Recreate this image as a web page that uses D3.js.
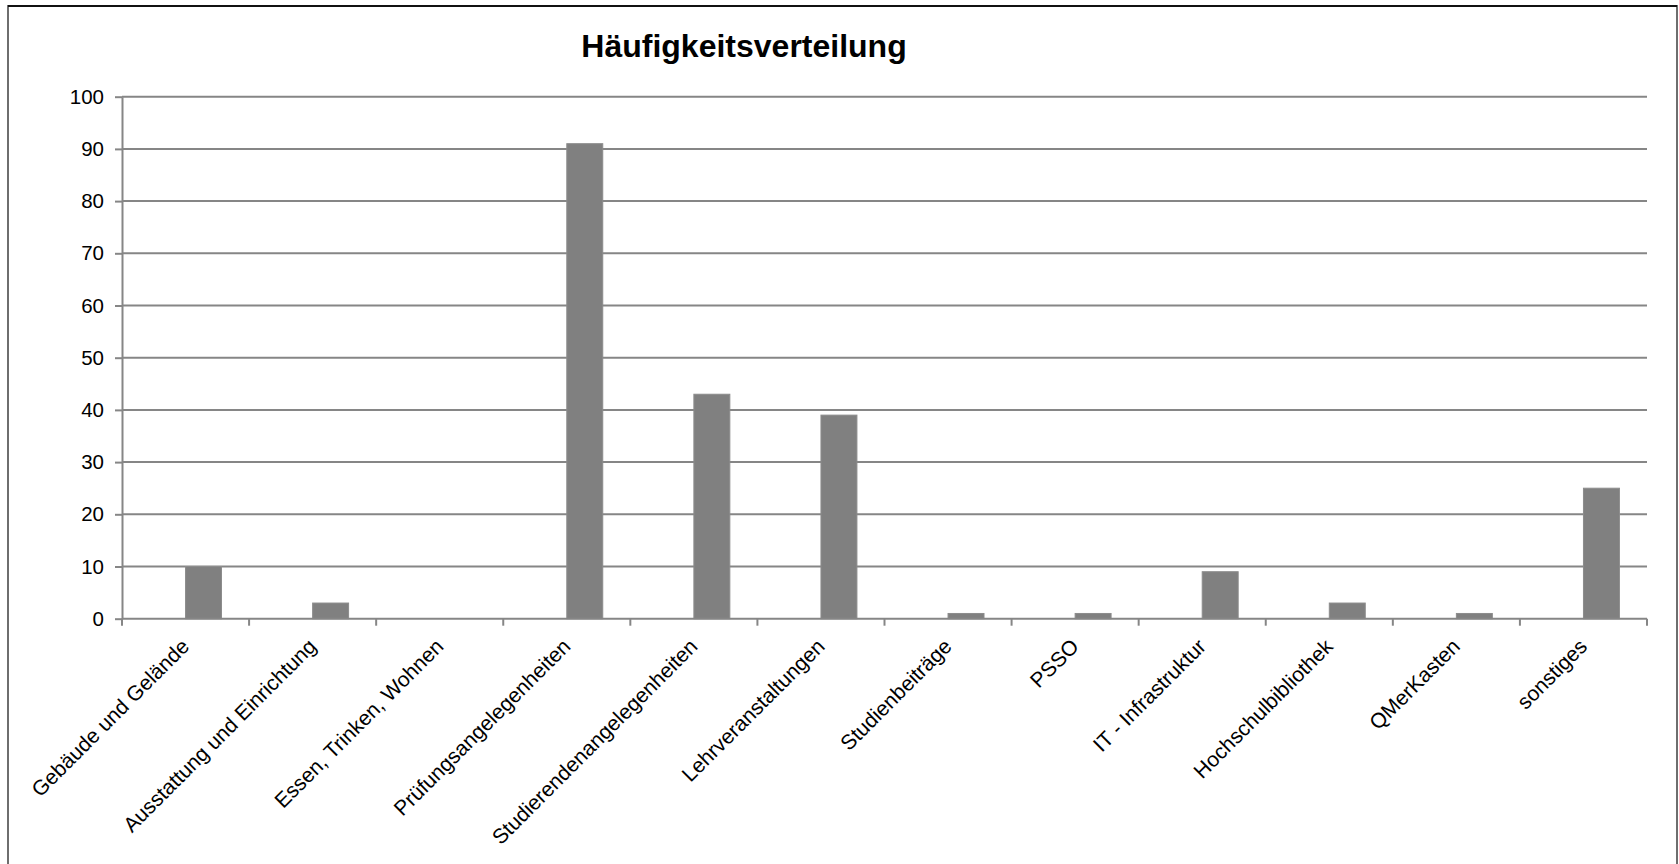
<!DOCTYPE html>
<html>
<head>
<meta charset="utf-8">
<script src="https://cdn.jsdelivr.net/npm/d3@7"></script>
<style>
  html, body { margin: 0; padding: 0; background: #fff; }
  svg { display: block; }
  text { font-family: "Liberation Sans", Arial, sans-serif; }
</style>
</head>
<body>
<svg id="chart" width="1679" height="864"></svg>
<script>
const chartTitle = "Häufigkeitsverteilung";
const categories = [
  "Gebäude und Gelände",
  "Ausstattung und Einrichtung",
  "Essen, Trinken, Wohnen",
  "Prüfungsangelegenheiten",
  "Studierendenangelegenheiten",
  "Lehrveranstaltungen",
  "Studienbeiträge",
  "PSSO",
  "IT - Infrastruktur",
  "Hochschulbibliothek",
  "QMerKasten",
  "sonstiges"
];
const values = [10, 3, 0, 91, 43, 39, 1, 1, 9, 3, 1, 25];
const yTicks = [0, 10, 20, 30, 40, 50, 60, 70, 80, 90, 100];

const svg = d3.select("#chart");
const plotL = 122, plotR = 1647, plotT = 96.7, plotB = 618.7;
const grey = "#868686";

// outer border
svg.append("rect").attr("x", 8).attr("y", 6).attr("width", 1669).attr("height", 870)
  .attr("fill", "#fff").attr("stroke", "#6e6e6e").attr("stroke-width", 2);
svg.append("line").attr("x1", 8).attr("x2", 1677).attr("y1", 6).attr("y2", 6)
  .attr("stroke", "#111").attr("stroke-width", 2);

const x = d3.scaleBand().domain(categories).range([plotL, plotR]).paddingInner(0).paddingOuter(0);
const y = d3.scaleLinear().domain([0, 100]).range([plotB, plotT]);

// gridlines
svg.append("g").selectAll("line").data(yTicks.filter(d => d > 0)).join("line")
  .attr("x1", plotL).attr("x2", plotR)
  .attr("y1", d => y(d)).attr("y2", d => y(d))
  .attr("stroke", grey).attr("stroke-width", 2);

// y axis
const yAxis = svg.append("g").attr("transform", `translate(${plotL},0)`)
  .call(d3.axisLeft(y).tickValues(yTicks).tickSize(7).tickPadding(11).tickSizeOuter(0));
yAxis.select(".domain").attr("stroke", grey).attr("stroke-width", 2);
yAxis.selectAll(".tick line").attr("stroke", grey).attr("stroke-width", 2);
yAxis.selectAll(".tick text").attr("font-size", 20.5).attr("fill", "#000")
  .attr("font-family", "Liberation Sans, Arial, sans-serif");

// bars (the visible series occupies the right half of the cluster)
const barW = x.bandwidth() * 0.283;
svg.append("g").selectAll("rect").data(values).join("rect")
  .attr("x", (d, i) => x(categories[i]) + x.bandwidth() / 2)
  .attr("width", barW)
  .attr("y", d => y(d))
  .attr("height", d => y(0) - y(d))
  .attr("fill", "#808080")
  .attr("stroke", "#8c8c8c").attr("stroke-width", 1);

// x axis line + boundary ticks
const xg = svg.append("g");
xg.append("line").attr("x1", plotL).attr("x2", plotR).attr("y1", plotB).attr("y2", plotB)
  .attr("stroke", grey).attr("stroke-width", 2);
const boundaries = categories.map(c => x(c)).concat([x(categories[categories.length - 1]) + x.bandwidth()]);
xg.selectAll("line.b").data(boundaries).join("line").attr("class", "b")
  .attr("x1", d => d).attr("x2", d => d).attr("y1", plotB).attr("y2", plotB + 7)
  .attr("stroke", grey).attr("stroke-width", 2);

// x labels rotated
xg.selectAll("text").data(categories).join("text")
  .attr("transform", c => `translate(${x(c) + x.bandwidth() / 2 + 5},${plotB + 29}) rotate(-45)`)
  .attr("text-anchor", "end")
  .attr("font-size", 21)
  .attr("fill", "#000")
  .text(c => c);

// title
svg.append("text").attr("x", 744).attr("y", 57).attr("text-anchor", "middle")
  .attr("font-size", 32).attr("font-weight", "bold").attr("fill", "#000")
  .text(chartTitle);
</script>
</body>
</html>
